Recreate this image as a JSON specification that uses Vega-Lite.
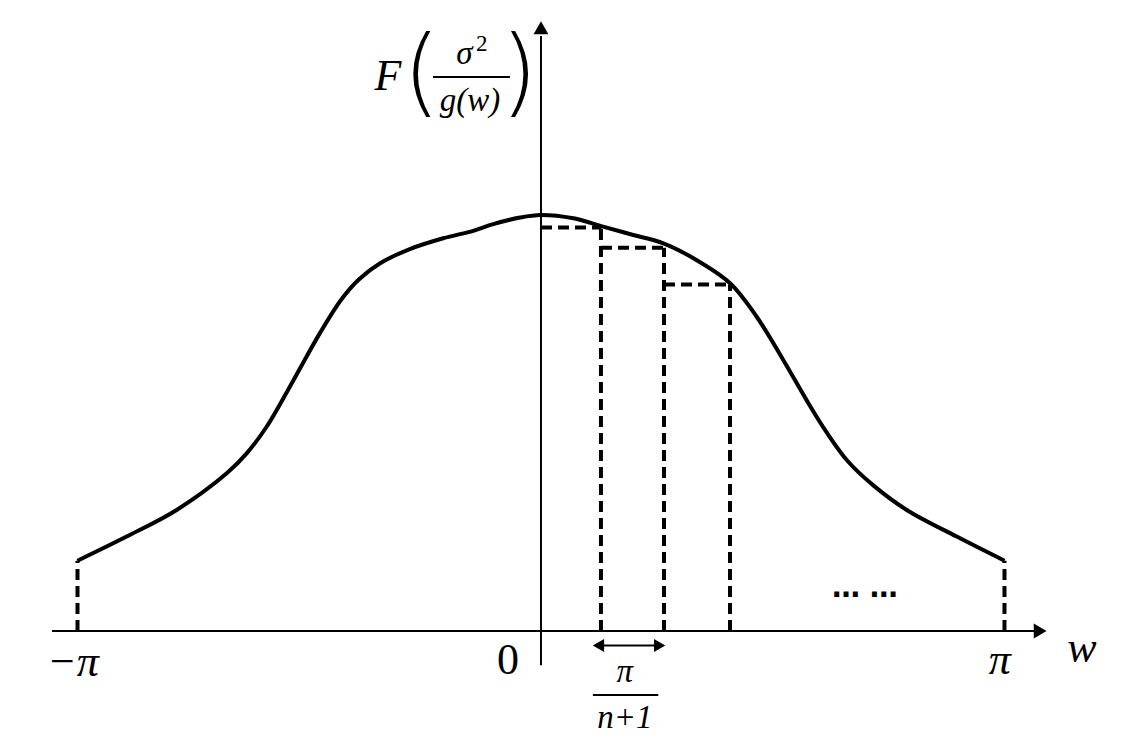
{
  "$schema": "https://vega.github.io/schema/vega-lite/v6.json",
  "width": 1128,
  "height": 746,
  "autosize": {"type": "fit", "contains": "padding"},
  "padding": 0,
  "background": "white",
  "config": {"view": {"stroke": null}},
  "encoding": {
    "x": {"field": "u", "type": "quantitative", "scale": {"domain": [-1.1672, 1.2665], "nice": false, "zero": false}, "axis": null},
    "y": {"field": "F", "type": "quantitative", "scale": {"domain": [-0.2764, 1.5168], "nice": false, "zero": false}, "axis": null}
  },
  "layer": [
    {
      "data": {"values": [
        {"i": 1, "u": -1.0, "F": 0.169},
        {"i": 2, "u": -0.894, "F": 0.227},
        {"i": 3, "u": -0.786, "F": 0.291},
        {"i": 4, "u": -0.678, "F": 0.379},
        {"i": 5, "u": -0.635, "F": 0.427},
        {"i": 6, "u": -0.592, "F": 0.491},
        {"i": 7, "u": -0.534, "F": 0.603},
        {"i": 8, "u": -0.477, "F": 0.716},
        {"i": 9, "u": -0.430, "F": 0.798},
        {"i": 10, "u": -0.393, "F": 0.845},
        {"i": 11, "u": -0.347, "F": 0.884},
        {"i": 12, "u": -0.283, "F": 0.918},
        {"i": 13, "u": -0.211, "F": 0.944},
        {"i": 14, "u": -0.146, "F": 0.962},
        {"i": 15, "u": -0.103, "F": 0.978},
        {"i": 16, "u": -0.045, "F": 0.994},
        {"i": 17, "u": 0.0, "F": 1.0},
        {"i": 18, "u": 0.070, "F": 0.992},
        {"i": 19, "u": 0.134, "F": 0.972},
        {"i": 20, "u": 0.199, "F": 0.952},
        {"i": 21, "u": 0.264, "F": 0.932},
        {"i": 22, "u": 0.329, "F": 0.896},
        {"i": 23, "u": 0.408, "F": 0.836},
        {"i": 24, "u": 0.465, "F": 0.756},
        {"i": 25, "u": 0.523, "F": 0.651},
        {"i": 26, "u": 0.573, "F": 0.555},
        {"i": 27, "u": 0.616, "F": 0.478},
        {"i": 28, "u": 0.662, "F": 0.408},
        {"i": 29, "u": 0.717, "F": 0.350},
        {"i": 30, "u": 0.789, "F": 0.291},
        {"i": 31, "u": 0.897, "F": 0.227},
        {"i": 32, "u": 1.0, "F": 0.169}
      ]},
      "mark": {"type": "line", "color": "black", "strokeWidth": 4, "interpolate": "catmull-rom"},
      "encoding": {"order": {"field": "i", "type": "quantitative"}}
    },
    {
      "data": {"values": [
        {"u": 0.0, "u2": 0.1305, "F": 0.970, "F2": 0.970},
        {"u": 0.1294, "u2": 0.1294, "F": 0.0, "F2": 0.970},
        {"u": 0.1294, "u2": 0.2654, "F": 0.921, "F2": 0.921},
        {"u": 0.2654, "u2": 0.2654, "F": 0.0, "F2": 0.921},
        {"u": 0.2654, "u2": 0.4078, "F": 0.833, "F2": 0.833},
        {"u": 0.4078, "u2": 0.4078, "F": 0.0, "F2": 0.833},
        {"u": -1.0, "u2": -1.0, "F": 0.0, "F2": 0.169},
        {"u": 1.0, "u2": 1.0, "F": 0.0, "F2": 0.169}
      ]},
      "mark": {"type": "rule", "color": "black", "strokeWidth": 4, "strokeDash": [11, 6]},
      "encoding": {"x2": {"field": "u2"}, "y2": {"field": "F2"}}
    },
    {
      "data": {"values": [
        {"u": -1.055, "u2": 1.072, "F": 0.0, "F2": 0.0},
        {"u": 0.0, "u2": 0.0, "F": -0.082, "F2": 1.43},
        {"u": 0.118, "u2": 0.262, "F": -0.035, "F2": -0.035},
        {"u": 0.112, "u2": 0.253, "F": -0.154, "F2": -0.154},
        {"u": -0.233, "u2": -0.067, "F": 1.332, "F2": 1.332}
      ]},
      "mark": {"type": "rule", "color": "black", "strokeWidth": 2},
      "encoding": {"x2": {"field": "u2"}, "y2": {"field": "F2"}}
    },
    {
      "data": {"values": [
        {"u": 1.077, "F": 0.0, "shape": "triangle-right"},
        {"u": 0.0, "F": 1.45, "shape": "triangle-up"}
      ]},
      "mark": {"type": "point", "filled": true, "color": "black", "opacity": 1, "size": 220},
      "encoding": {"shape": {"field": "shape", "type": "nominal", "scale": null}}
    },
    {
      "data": {"values": [
        {"u": 0.124, "F": -0.035, "shape": "triangle-left"},
        {"u": 0.256, "F": -0.035, "shape": "triangle-right"}
      ]},
      "mark": {"type": "point", "filled": true, "color": "black", "opacity": 1, "size": 170},
      "encoding": {"shape": {"field": "shape", "type": "nominal", "scale": null}}
    },
    {
      "data": {"values": [
        {"u": -1.010, "F": -0.077, "t": "−π"},
        {"u": 0.990, "F": -0.072, "t": "π"},
        {"u": 1.167, "F": -0.043, "t": "w"},
        {"u": -0.330, "F": 1.332, "t": "F"}
      ]},
      "mark": {"type": "text", "font": "Liberation Serif", "fontStyle": "italic", "fontSize": 44, "align": "center", "baseline": "middle", "color": "black"},
      "encoding": {"text": {"field": "t"}}
    },
    {
      "data": {"values": [
        {"u": -0.071, "F": -0.072, "t": "0"}
      ]},
      "mark": {"type": "text", "font": "Liberation Serif", "fontSize": 44, "align": "center", "baseline": "middle", "color": "black"},
      "encoding": {"text": {"field": "t"}}
    },
    {
      "data": {"values": [
        {"u": 0.181, "F": -0.099, "t": "π"},
        {"u": 0.181, "F": -0.209, "t": "n+1"},
        {"u": -0.165, "F": 1.386, "t": "σ"},
        {"u": -0.153, "F": 1.274, "t": "g(w)"}
      ]},
      "mark": {"type": "text", "font": "Liberation Serif", "fontStyle": "italic", "fontSize": 33, "align": "center", "baseline": "middle", "color": "black"},
      "encoding": {"text": {"field": "t"}}
    },
    {
      "data": {"values": [
        {"u": -0.128, "F": 1.412, "t": "2"}
      ]},
      "mark": {"type": "text", "font": "Liberation Serif", "fontSize": 23, "align": "center", "baseline": "middle", "color": "black"},
      "encoding": {"text": {"field": "t"}}
    },
    {
      "data": {"values": [
        {"u": -0.258, "F": 1.337, "t": "("},
        {"u": -0.047, "F": 1.337, "t": ")"}
      ]},
      "mark": {"type": "text", "font": "DejaVu Sans", "fontWeight": 200, "fontSize": 96, "align": "center", "baseline": "middle", "color": "black"},
      "encoding": {"text": {"field": "t"}}
    },
    {
      "data": {"values": [
        {"u": 0.699, "F": 0.102, "t": "… …"}
      ]},
      "mark": {"type": "text", "font": "DejaVu Sans", "fontWeight": "bold", "fontSize": 28, "align": "center", "baseline": "middle", "color": "black"},
      "encoding": {"text": {"field": "t"}}
    }
  ]
}
